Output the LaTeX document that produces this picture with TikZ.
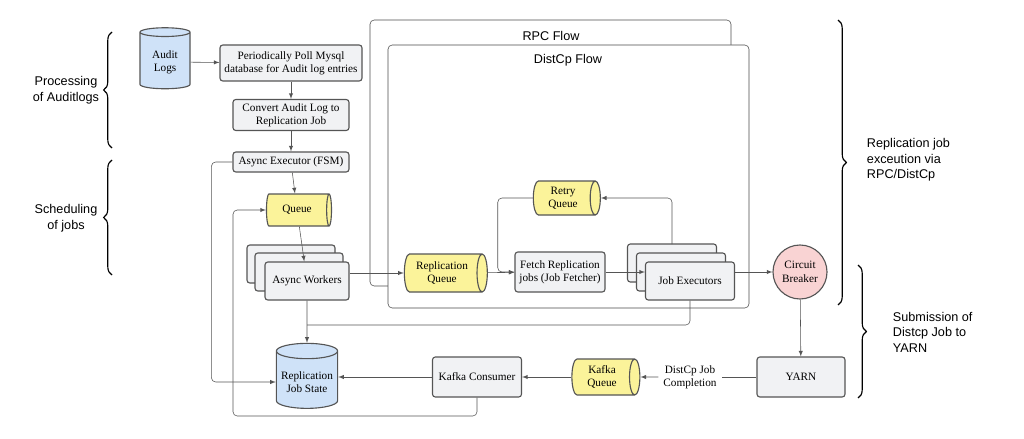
\documentclass[tikz,border=0pt]{standalone}
\usepackage{fontspec}
\setmainfont{Liberation Serif}
\newfontfamily\labelfont{Liberation Sans}
\usetikzlibrary{positioning,shapes.geometric,decorations.pathreplacing}
\definecolor{boxfill}{HTML}{F1F2F4}
\definecolor{dbfill}{HTML}{CFE2F8}
\definecolor{qfill}{HTML}{FBF39A}
\definecolor{cbfill}{HTML}{F9D3D3}
\definecolor{linegray}{HTML}{555555}

\begin{document}
\begin{tikzpicture}[
    x=0.025cm, y=-0.025cm,
    >=latex,
    box/.style={draw=linegray, thick, rounded corners=2pt, fill=boxfill,
                align=center, font=\footnotesize, inner sep=2pt},
    db/.style={draw=linegray, thick, cylinder, shape border rotate=90, aspect=0.25,
               fill=dbfill, align=center, font=\footnotesize},
    queue/.style={draw=linegray, thick, cylinder, aspect=0.4, fill=qfill,
                  align=center, font=\footnotesize, inner sep=1pt},
    flow/.style={draw=black!70, rounded corners=3pt},
    every edge/.style={->, draw=linegray},
    conn/.style={->, draw=linegray, rounded corners=3pt},
    brace/.style={decorate, decoration={brace, amplitude=6pt}, thick},
    note/.style={font=\labelfont\small, align=center}]

    \useasboundingbox (0,0) rectangle (1024,439);

    % flow frames
    \draw[flow] (370,20) rectangle (731,286);
    \node[note] (rpclabel) at (551,36) {RPC Flow};
    \draw[flow, fill=white] (388,45) rectangle (749,308);
    \node[note] (dcplabel) at (568,60) {DistCp Flow};

    % processing of audit logs
    \node[db, minimum width=50*0.025cm, minimum height=61*0.025cm] (audit) at (165,62) {Audit\\Logs};
    \node[box, minimum width=142*0.025cm, minimum height=36*0.025cm] (poll) at (291,63) {Periodically Poll Mysql\\database for Audit log entries};
    \node[box, minimum width=116*0.025cm, minimum height=31*0.025cm] (convert) at (291,115) {Convert Audit Log to\\Replication Job};
    \node[box, minimum width=116*0.025cm, minimum height=20*0.025cm] (executor) at (291,162) {Async Executor (FSM)};

    % scheduling of jobs
    \node[queue, minimum height=65*0.025cm, minimum width=32*0.025cm] (queue) at (297,210) {Queue};
    \node[box, minimum width=88*0.025cm, minimum height=38*0.025cm] at (291,264) {};
    \node[box, minimum width=88*0.025cm, minimum height=38*0.025cm] at (299,272) {};
    \node[box, minimum width=84*0.025cm, minimum height=38*0.025cm] (workers) at (307,281) {Async Workers};

    % replication flow
    \node[queue, minimum height=83*0.025cm, minimum width=38*0.025cm] (repqueue) at (442,273) {Replication\\Queue};
    \node[box, minimum width=90*0.025cm, minimum height=40*0.025cm] (fetch) at (560,272) {Fetch Replication\\jobs (Job Fetcher)};
    \node[queue, minimum height=67*0.025cm, minimum width=34*0.025cm] (retry) at (563,198) {Retry\\Queue};
    \node[box, minimum width=89*0.025cm, minimum height=38*0.025cm] at (672,263) {};
    \node[box, minimum width=89*0.025cm, minimum height=38*0.025cm] at (681,272) {};
    \node[box, minimum width=89*0.025cm, minimum height=38*0.025cm] (jobexec) at (690,281) {Job Executors};
    \node[draw=linegray, thick, circle, fill=cbfill, minimum size=54*0.025cm, align=center,
          font=\footnotesize, inner sep=0pt] (breaker) at (800,272) {Circuit\\Breaker};

    % submission to yarn
    \node[box, minimum width=88*0.025cm, minimum height=40*0.025cm] (yarn) at (801,377) {YARN};
    \node[queue, minimum height=68*0.025cm, minimum width=36*0.025cm] (kafkaq) at (602,377) {Kafka\\Queue};
    \node[box, minimum width=89*0.025cm, minimum height=40*0.025cm] (consumer) at (477,377) {Kafka Consumer};
    \node[db, minimum width=53*0.025cm, minimum height=65*0.025cm] (state) at (307,382) {Replication\\Job State};
    \node[font=\footnotesize, align=center] (completion) at (690,377) {DistCp Job\\Completion};
    \coordinate (join) at (307,325);

    % connectors
    \draw (audit) edge (poll);
    \draw (poll) edge (convert);
    \draw (convert) edge (executor);
    \draw (executor) edge (queue);
    \draw (queue) edge (workers);
    \draw[->, draw=linegray] (workers.east |- repqueue) -- (repqueue.west);
    \draw (repqueue) edge (fetch);
    \draw (fetch) edge (fetch -| jobexec.west);
    \draw[conn] (retry.west) -- ++(-35,0) |- (fetch.west);
    \draw[conn] (672,244) |- (retry.east);
    \draw (breaker -| jobexec.east) edge (breaker);
    \draw (breaker) edge (yarn);
    \draw[draw=linegray] (yarn) -- (completion);
    \draw (completion) edge (kafkaq);
    \draw (kafkaq) edge (consumer);
    \draw (consumer) edge (state.east |- consumer);
    \draw (workers) edge (state);
    \draw[draw=linegray, rounded corners=3pt] (jobexec.south) |- (join);
    \draw[conn] (executor.west) -- ++(-21,0) |- (state.west);
    \draw[conn] (consumer.south) |- (233,416) |- (queue.west);

    % braces
    \draw[brace] (112,148) -- (112,32);
    \node[note] (proc) at (66,90) {Processing\\of Auditlogs};
    \draw[brace] (112,275) -- (112,160);
    \node[note] (sched) at (66,218) {Scheduling\\of jobs};
    \draw[brace] (838,20) -- (838,305);
    \node[note, align=left, anchor=west] (repl) at (862,160) {Replication job\\exceution via\\RPC/DistCp};
    \draw[brace] (858,265) -- (858,398);
    \node[note, align=left, anchor=west] (subm) at (888,332) {Submission of\\Distcp Job to\\YARN};

\end{tikzpicture}
\end{document}
